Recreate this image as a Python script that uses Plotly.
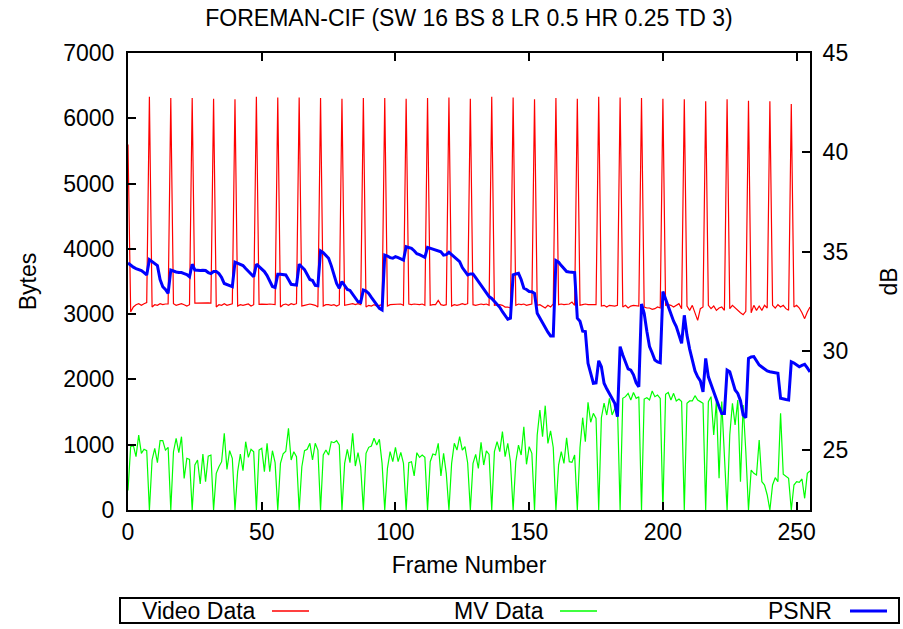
import plotly.graph_objects as go

frames = list(range(256))

video_bytes = [
    5600, 3033, 3110, 3145, 3160, 3135, 3160, 3176,
    6330, 3110, 3145, 3135, 3160, 3145, 3155, 3155,
    6310, 3160, 3135, 3145, 3160, 3145, 3124, 3145,
    6310, 3170, 3172, 3170, 3171, 3170, 3172, 3168,
    6300, 3110, 3145, 3135, 3160, 3135, 3145, 3160,
    6290, 3124, 3145, 3135, 3145, 3155, 3124, 3145,
    6330, 3150, 3152, 3148, 3150, 3155, 3150, 3148,
    6320, 3109, 3145, 3155, 3135, 3160, 3145, 3160,
    6320, 3124, 3135, 3145, 3155, 3145, 3135, 3109,
    6310, 3124, 3145, 3145, 3135, 3145, 3124, 3145,
    6300, 3135, 3145, 3155, 3160, 3145, 3160, 3145,
    6310, 3109, 3135, 3124, 3145, 3124, 3135, 3145,
    6310, 3124, 3145, 3145, 3155, 3145, 3155, 3135,
    6300, 3155, 3145, 3155, 3145, 3145, 3155, 3135,
    6310, 3135, 3145, 3145, 3211, 3145, 3135, 3145,
    6320, 3124, 3145, 3135, 3145, 3160, 3145, 3160,
    6300, 3145, 3135, 3145, 3155, 3145, 3155, 3135,
    6330, 3135, 3145, 3145, 3135, 3109, 3109, 3094,
    6320, 3135, 3155, 3145, 3155, 3135, 3145, 3155,
    6290, 3135, 3145, 3124, 3094, 3135, 3109, 3155,
    6310, 3145, 3155, 3145, 3145, 3155, 3186, 3135,
    6300, 3135, 3145, 3155, 3145, 3145, 3155, 3145,
    6330, 3124, 3135, 3109, 3135, 3124, 3124, 3135,
    6320, 3109, 3135, 3094, 3124, 3135, 3124, 3124,
    6310, 3109, 3094, 3094, 3073, 3084, 3109, 3094,
    6300, 3135, 3145, 3135, 3109, 3135, 3160, 3084,
    6290, 3124, 3058, 3135, 3007, 2905, 3084, 3109,
    6260, 3135, 3084, 3124, 3058, 3094, 3109, 3058,
    6290, 3084, 3135, 3094, 3058, 3022, 2992, 3043,
    6270, 3022, 3135, 3058, 3124, 3058, 3135, 3094,
    6260, 3135, 3094, 3145, 3109, 3135, 3084, 3058,
    6220, 3109, 3135, 3094, 3022, 2931, 3033, 3109,
]

mv_bytes = [
    300, 970, 990, 816, 1149, 868, 930, 910,
    0, 766, 945, 725, 1062, 1062, 918, 960,
    0, 893, 1098, 878, 1123, 485, 792, 776,
    0, 689, 766, 398, 857, 434, 826, 842,
    0, 561, 663, 740, 1174, 622, 910, 792,
    0, 587, 857, 602, 1046, 806, 930, 893,
    0, 918, 945, 587, 1021, 587, 908, 725,
    0, 714, 860, 900, 1251, 766, 893, 816,
    0, 663, 908, 930, 1021, 766, 1021, 918,
    0, 842, 918, 842, 1046, 1031, 1062, 995,
    0, 714, 930, 725, 1174, 673, 878, 663,
    0, 868, 960, 980, 1098, 995, 1082, 714,
    0, 637, 893, 740, 960, 740, 883, 714,
    0, 725, 740, 521, 878, 806, 842, 806,
    0, 740, 857, 842, 1021, 521, 868, 561,
    0, 714, 1021, 918, 1123, 918, 970, 720,
    0, 714, 852, 638, 1036, 689, 904, 852,
    0, 893, 1046, 893, 1200, 817, 1021, 740,
    0, 740, 995, 842, 1276, 700, 970, 868,
    0, 1148, 1532, 1123, 1598, 1021, 1212, 957,
    0, 689, 893, 714, 1107, 740, 730, 842,
    0, 957, 1414, 1046, 1649, 1344, 1480, 1404,
    0, 1414, 1638, 1455, 1710, 1455, 1550, 1600,
    0, 1710, 1736, 1787, 1685, 1800, 1710, 1736,
    0, 1700, 1720, 1685, 1823, 1736, 1761, 1710,
    0, 1772, 1800, 1685, 1787, 1670, 1700, 1660,
    0, 1634, 1670, 1670, 1751, 1685, 1660, 1634,
    0, 1660, 1736, 1148, 1660, 485, 1660, 893,
    0, 1148, 1634, 1302, 1685, 434, 1608, 900,
    0, 612, 561, 536, 1072, 434, 383, 230,
    0, 383, 495, 434, 1480, 547, 510, 485,
    0, 383, 434, 424, 475, 179, 561, 597,
]

psnr_db = [
    34.43, 34.30, 34.22, 34.15, 34.10, 34.05, 33.95, 33.83,
    34.60, 34.50, 34.42, 34.30, 33.60, 33.24, 33.10, 32.90,
    34.08, 34.02, 33.98, 33.95, 33.95, 33.90, 33.85, 33.74,
    34.37, 34.08, 34.05, 34.05, 34.06, 34.05, 33.95, 33.90,
    34.00, 34.00, 33.90, 33.70, 33.40, 33.35, 33.30, 33.24,
    34.47, 34.40, 34.35, 34.30, 34.15, 34.00, 33.85, 33.74,
    34.37, 34.25, 34.10, 34.00, 33.80, 33.50, 33.25, 33.20,
    33.86, 33.86, 33.85, 33.83, 33.60, 33.36, 33.34, 33.32,
    34.37, 34.25, 34.10, 33.85, 33.60, 33.55, 33.30, 33.28,
    35.04, 34.95, 34.80, 34.67, 34.30, 33.90, 33.40, 33.16,
    33.50, 33.30, 33.10, 33.05, 32.85, 32.70, 32.48, 32.45,
    33.07, 33.02, 32.90, 32.70, 32.50, 32.35, 32.15, 32.07,
    34.83, 34.78, 34.70, 34.67, 34.75, 34.70, 34.62, 34.58,
    35.25, 35.22, 35.17, 35.05, 34.90, 34.85, 34.78, 34.72,
    35.22, 35.18, 35.14, 35.10, 35.04, 35.00, 34.83, 34.85,
    34.97, 34.85, 34.70, 34.60, 34.50, 34.20, 34.00, 33.83,
    33.88, 33.88, 33.70, 33.50, 33.30, 33.10, 32.90, 32.74,
    32.65, 32.50, 32.40, 32.20, 31.98, 31.80, 31.60, 31.65,
    33.83, 33.88, 33.91, 33.60, 33.16, 33.10, 33.00, 32.99,
    32.90, 31.90, 31.65, 31.40, 31.15, 30.95, 30.76, 30.76,
    34.55, 34.47, 34.30, 34.15, 34.00, 33.98, 33.96, 33.95,
    31.65, 31.50, 31.00, 30.98, 29.38, 28.90, 28.38, 28.40,
    29.51, 29.21, 28.38, 28.10, 27.87, 27.60, 27.37, 26.70,
    30.22, 29.80, 29.46, 29.10, 29.04, 28.80, 28.40, 28.20,
    32.37, 31.90, 31.00, 30.22, 29.90, 29.55, 29.45, 29.41,
    32.99, 32.60, 32.20, 31.80, 31.50, 31.23, 30.80, 30.39,
    31.80, 30.80, 30.10, 29.60, 29.00, 28.70, 28.50, 27.95,
    29.63, 28.70, 28.30, 27.90, 27.60, 27.20, 26.86, 26.86,
    29.04, 28.96, 28.50, 28.04, 27.87, 27.50, 26.78, 26.65,
    29.63, 29.70, 29.72, 29.50, 29.30, 29.20, 29.10, 29.00,
    28.96, 28.92, 28.90, 28.88, 27.62, 27.58, 27.56, 27.54,
    29.46, 29.40, 29.30, 29.21, 29.28, 29.33, 29.15, 28.95,
]

series_names = ["Video Data", "MV Data", "PSNR"]
series_colors = ["#ff0000", "#00ff00", "#0000ff"]
x_ticks = [0, 50, 100, 150, 200, 250]
y_ticks = [0, 1000, 2000, 3000, 4000, 5000, 6000, 7000]
y2_ticks = [25, 30, 35, 40, 45]

FONT = "Liberation Sans, Arial, Helvetica, sans-serif"
FS = 23

fig = go.Figure()
fig.add_trace(go.Scatter(x=frames, y=mv_bytes, mode="lines", name=series_names[1],
                         line=dict(color=series_colors[1], width=1.2), yaxis="y"))
fig.add_trace(go.Scatter(x=frames, y=video_bytes, mode="lines", name=series_names[0],
                         line=dict(color=series_colors[0], width=1.2), yaxis="y"))
fig.add_trace(go.Scatter(x=frames, y=psnr_db, mode="lines", name=series_names[2],
                         line=dict(color=series_colors[2], width=3), yaxis="y2"))

W, H = 903, 629
L, R, T, B = 128, 93, 53, 119
pw, ph = W - L - R, H - T - B


def px2x(px):
    return (px - L) / pw


def py2y(py):
    return (H - B - py) / ph


axis_common = dict(showgrid=False, zeroline=False, ticks="inside", ticklen=8, tickwidth=2,
                   tickcolor="black", linecolor="black", linewidth=2, showline=True,
                   tickfont=dict(family=FONT, size=FS, color="black"))

fig.update_layout(
    width=W, height=H,
    margin=dict(l=L, r=R, t=T, b=B, autoexpand=False),
    paper_bgcolor="white", plot_bgcolor="white",
    showlegend=False,
    font=dict(family=FONT, size=FS, color="black"),
    title=dict(text="FOREMAN-CIF (SW 16 BS 8 LR 0.5 HR 0.25 TD 3)", x=px2x(469), xref="paper",
               y=1 - 18 / H, yanchor="middle", xanchor="center",
               font=dict(family=FONT, size=FS, color="black")),
    xaxis=dict(range=[0, 255], tickvals=x_ticks, mirror="ticks",
               title=dict(text="Frame Number", standoff=13, font=dict(family=FONT, size=FS)),
               ticklabelstandoff=0, **axis_common),
    yaxis=dict(range=[0, 7000], tickvals=y_ticks, mirror=True,
               title=dict(text="Bytes", standoff=20, font=dict(family=FONT, size=FS)),
               ticklabelstandoff=7, **axis_common),
    yaxis2=dict(range=[22, 45], tickvals=y2_ticks, overlaying="y", side="right",
                ticklabelstandoff=6, **axis_common),
)

# right axis title placed like gnuplot's y2label
fig.add_annotation(text="dB", xref="paper", yref="paper", x=px2x(888), y=0.5,
                   xanchor="center", yanchor="middle", textangle=-90, showarrow=False,
                   font=dict(family=FONT, size=FS, color="black"))

# gnuplot-style key box below the plot (text left, line sample right)
fig.add_shape(type="rect", xref="paper", yref="paper",
              x0=px2x(120), x1=px2x(899), y0=py2y(623), y1=py2y(598),
              line=dict(color="black", width=2), fillcolor="rgba(0,0,0,0)")
key_text_right = [258, 546, 834]
key_line = [(272, 309), (560, 597), (850, 887)]
key_width = [1.5, 1.5, 3]
for name, col, tx, (l0, l1), w in zip(series_names, series_colors, key_text_right, key_line, key_width):
    fig.add_annotation(text=name, xref="paper", yref="paper", x=px2x(tx), y=py2y(611),
                       xanchor="right", yanchor="middle", showarrow=False,
                       font=dict(family=FONT, size=FS, color="black"))
    fig.add_shape(type="line", xref="paper", yref="paper", x0=px2x(l0), x1=px2x(l1),
                  y0=py2y(611), y1=py2y(611), line=dict(color=col, width=w))

fig.write_html("out.html", config={"displayModeBar": False},
               post_script="document.body.style.margin='0px';document.body.style.overflow='hidden';")
